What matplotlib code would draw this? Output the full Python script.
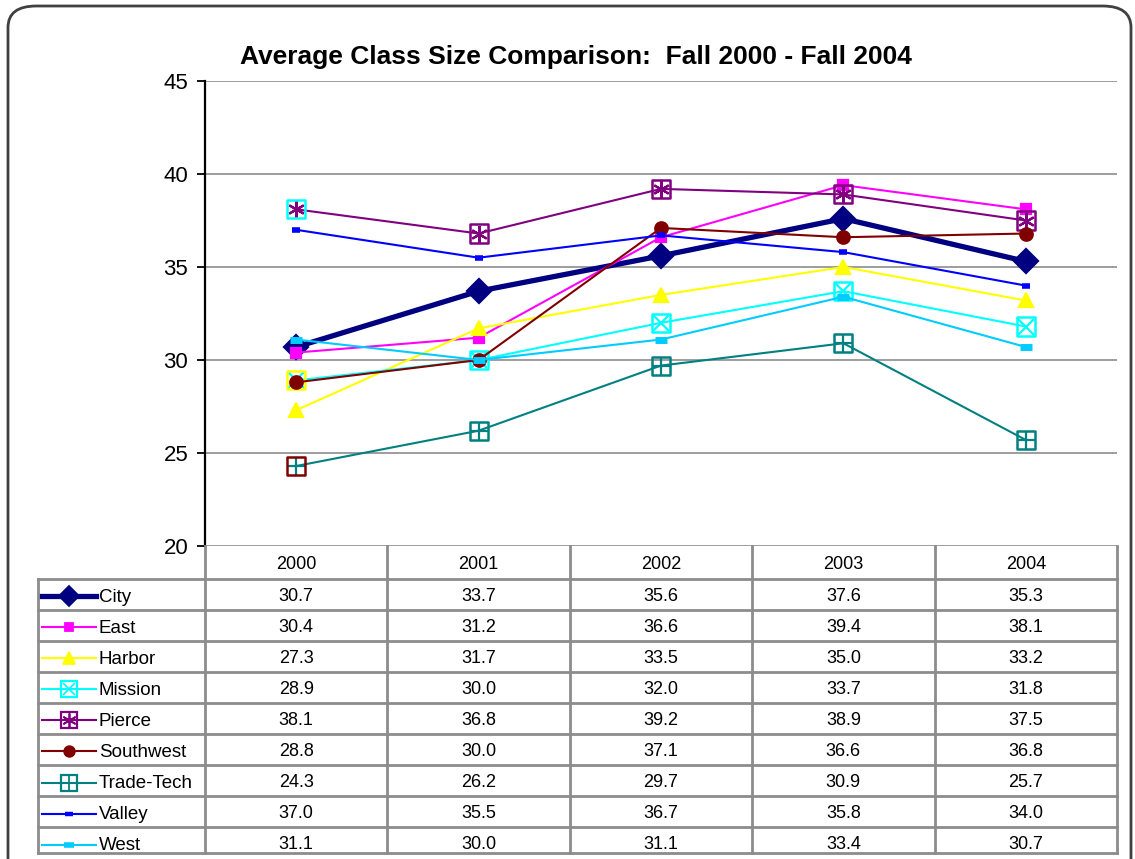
import matplotlib
matplotlib.use("Agg")
import matplotlib.pyplot as plt
from matplotlib.lines import Line2D
from matplotlib.patches import FancyBboxPatch

plt.rcParams["font.family"] = ["Liberation Sans", "DejaVu Sans"]

years = ["2000", "2001", "2002", "2003", "2004"]
colleges = ["City", "East", "Harbor", "Mission", "Pierce",
            "Southwest", "Trade-Tech", "Valley", "West"]

city = [30.7, 33.7, 35.6, 37.6, 35.3]
east = [30.4, 31.2, 36.6, 39.4, 38.1]
harbor = [27.3, 31.7, 33.5, 35.0, 33.2]
mission = [28.9, 30.0, 32.0, 33.7, 31.8]
pierce = [38.1, 36.8, 39.2, 38.9, 37.5]
southwest = [28.8, 30.0, 37.1, 36.6, 36.8]
trade_tech = [24.3, 26.2, 29.7, 30.9, 25.7]
valley = [37.0, 35.5, 36.7, 35.8, 34.0]
west = [31.1, 30.0, 31.1, 33.4, 30.7]

series = [city, east, harbor, mission, pierce, southwest, trade_tech, valley, west]

# style per series: color, line width, marker, marker size, inner symbol
styles = [
    dict(color="#000080", lw=3.8, marker="D", ms=12.5),
    dict(color="#FF00FF", lw=1.5, marker="s", ms=7.5),
    dict(color="#FFFF00", lw=1.5, marker="^", ms=10),
    dict(color="#00FFFF", lw=1.5, marker="x", ms=11, box=True),
    dict(color="#800080", lw=1.5, marker=(6, 2, 0), ms=12, box=True),
    dict(color="#800000", lw=1.5, marker="o", ms=9),
    dict(color="#008080", lw=1.5, marker="+", ms=13, box=True),
    dict(color="#0000FF", lw=1.5, marker="_", ms=6, mew=4),
    dict(color="#00CCFF", lw=1.5, marker="_", ms=9, mew=5),
]
# Excel drew the 2000 box markers in another series' colour
first_box_color = {3: "#FFFF00", 4: "#00FFFF", 6: "#800000"}

W, H = 1135, 859
fig = plt.figure(figsize=(W / 100, H / 100), dpi=100)

# rounded outer frame
frame = FancyBboxPatch((8 / W, -0.05), (1131 - 8) / W, (H - 6) / H + 0.05,
                       boxstyle="round,pad=0,rounding_size=0.025",
                       transform=fig.transFigure, fill=False,
                       edgecolor="#404040", lw=2)
fig.patches.append(frame)

ax = fig.add_axes([205 / W, (H - 546) / H, (1117 - 205) / W, (546 - 81) / H])
x = list(range(len(years)))
ax.set_xlim(-0.5, len(years) - 0.5)
ax.set_ylim(20, 45)
ax.set_yticks([20, 25, 30, 35, 40, 45])
ax.set_xticks([])
ax.grid(axis="y", color="#8c8c8c", lw=1.2)
ax.set_axisbelow(True)
for s in ["top", "right", "bottom"]:
    ax.spines[s].set_visible(False)
ax.spines["left"].set_color("black")
ax.spines["left"].set_linewidth(1.6)
ax.tick_params(axis="y", length=6, width=1.3, labelsize=16, pad=6)

box_ms = 13
for i, (vals, st) in enumerate(zip(series, styles)):
    ax.plot(x, vals, color=st["color"], lw=st["lw"], marker=st["marker"],
            ms=st["ms"], mew=st.get("mew", 1.6), mfc=st["color"],
            mec=st["color"], zorder=3 + i * 0.1)
    if st.get("box"):
        ecs = [st["color"]] * len(vals)
        if i in first_box_color:
            ecs[0] = first_box_color[i]
        ax.scatter(x, vals, marker="s", s=box_ms ** 2, facecolors="none",
                   edgecolors=ecs, linewidths=1.8, zorder=3 + i * 0.1)

fig.text(0.507, (H - 57) / H, "Average Class Size Comparison:  Fall 2000 - Fall 2004",
         ha="center", va="center", fontsize=19, fontweight="bold")

# data table beneath the plot
tx0 = -0.5 - (205 - 38) / ((1117 - 205) / len(years))
tab = fig.add_axes([38 / W, (H - 853) / H, (1117 - 38) / W, (853 - 546) / H])
tab.set_xlim(tx0, len(years) - 0.5)
tab.set_ylim(853, 546)
tab.axis("off")

gray = "#8c8c8c"
head_top, head_bot, bottom = 546, 579, 853
row_h = 31  # last row is cut off by the image edge

for k in range(len(years) + 1):
    tab.plot([k - 0.5, k - 0.5], [head_top, bottom], color=gray, lw=2, clip_on=False)
tab.plot([tx0, tx0], [head_bot, bottom], color=gray, lw=2, clip_on=False)
for r in range(len(colleges)):
    yy = head_bot + r * row_h
    tab.plot([tx0, len(years) - 0.5], [yy, yy], color=gray, lw=2, clip_on=False)
tab.plot([tx0, len(years) - 0.5], [bottom, bottom], color=gray, lw=2, clip_on=False)

for j, yr in enumerate(years):
    tab.text(j, (head_top + head_bot) / 2 + 2, yr, ha="center", va="center", fontsize=13)

unit = (1117 - 38) / (len(years) - 0.5 - tx0)  # pixels per x unit
for r, (name, vals, st) in enumerate(zip(colleges, series, styles)):
    yc = head_bot + (r + 0.5) * row_h + 2
    for j, v in enumerate(vals):
        tab.text(j, yc, f"{v:.1f}", ha="center", va="center", fontsize=13)
    lx0 = tx0 + 4 / unit
    lx1 = tx0 + 58 / unit
    lxm = (lx0 + lx1) / 2
    tab.add_line(Line2D([lx0, lx1], [yc, yc], color=st["color"], lw=st["lw"],
                        clip_on=False))
    tab.add_line(Line2D([lxm], [yc], marker=st["marker"], ms=st["ms"] * 0.85,
                        mew=st.get("mew", 1.6) * 0.8, color=st["color"],
                        mfc=st["color"], mec=st["color"], clip_on=False))
    if st.get("box"):
        tab.add_line(Line2D([lxm], [yc], marker="s", ms=box_ms * 0.85, mfc="none",
                            mec=st["color"], mew=1.6, clip_on=False))
    tab.text(tx0 + 61 / unit, yc + 1, name, ha="left", va="center", fontsize=13.5)

fig.savefig("out.png", dpi=100)
